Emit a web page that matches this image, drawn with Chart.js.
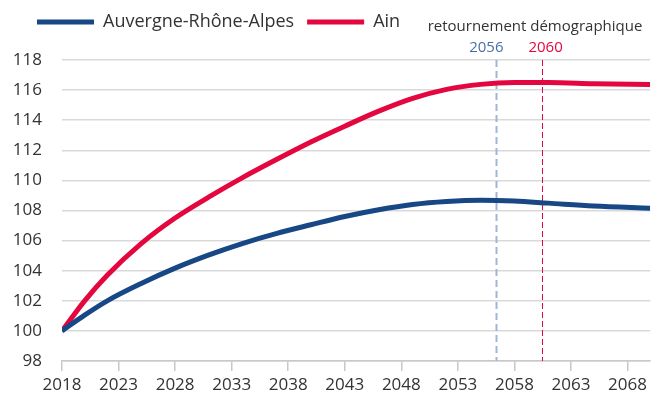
<!DOCTYPE html>
<html>
<head>
<meta charset="utf-8">
<script src="https://cdn.jsdelivr.net/npm/chart.js@4.4.1/dist/chart.umd.min.js"></script>
<style>
  html, body { margin: 0; padding: 0; background: #fff; }
</style>
</head>
<body>
<canvas id="chart" width="651" height="400"></canvas>
<script>
// valeurs (indice base 100 en 2018)
const years = [2018, 2020, 2022, 2025, 2028, 2031, 2034, 2037, 2040, 2043, 2046, 2049, 2052, 2055, 2058, 2061, 2065, 2070];
const araValues = [100, 101.05, 102.0, 103.15, 104.17, 105.05, 105.82, 106.48, 107.05, 107.6, 108.05, 108.4, 108.6, 108.68, 108.63, 108.49, 108.3, 108.15];
const ainValues = [100, 102.0, 103.7, 105.8, 107.5, 108.9, 110.2, 111.4, 112.55, 113.6, 114.6, 115.45, 116.05, 116.38, 116.5, 116.5, 116.43, 116.37];
const xTickYears = [2018, 2023, 2028, 2033, 2038, 2043, 2048, 2053, 2058, 2063, 2068];
const seriesNames = ['Auvergne-Rhône-Alpes', 'Ain'];

// retournement démographique
const markerTitle = 'retournement démographique';
const markerX = [2056.4, 2060.4];
const markerLabels = ['2056', '2060'];

const BLUE = '#174785';
const RED = '#e4073f';
const FONT = "'Open Sans', sans-serif";

function toPoints(values) {
  return years.map((y, i) => ({ x: y, y: values[i] }));
}

// traits pointillés + textes du retournement
const markerPlugin = {
  id: 'markers',
  beforeDatasetsDraw(chart) {
    const ctx = chart.ctx;
    const x = chart.scales.x;
    const area = chart.chartArea;
    const lineColors = ['#9fb5d8', RED];
    const lineWidths = [2, 1];
    const dashes = [[7, 4], [6, 3]];
    ctx.save();
    markerX.forEach((v, i) => {
      const px = Math.round(x.getPixelForValue(v)) + 0.5;
      ctx.beginPath();
      ctx.strokeStyle = lineColors[i];
      ctx.lineWidth = lineWidths[i];
      ctx.setLineDash(dashes[i]);
      ctx.moveTo(px, area.top);
      ctx.lineTo(px, area.bottom);
      ctx.stroke();
    });
    ctx.restore();
  },
  afterDraw(chart) {
    const ctx = chart.ctx;
    const x = chart.scales.x;
    const textColors = ['#4a6da7', RED];
    const offsets = [-10, 4];
    ctx.save();
    ctx.font = '15px ' + FONT;
    ctx.textBaseline = 'middle';
    ctx.textAlign = 'center';
    ctx.fillStyle = '#333';
    ctx.fillText(markerTitle, 535, 27);
    markerLabels.forEach((t, i) => {
      ctx.fillStyle = textColors[i];
      ctx.fillText(t, x.getPixelForValue(markerX[i]) + offsets[i], 48);
    });
    ctx.restore();
  }
};

// hauteur fixe de la légende et décalage vers la droite
const legendTweak = {
  id: 'legendTweak',
  beforeInit(chart) {
    const legend = chart.legend;
    const fit = legend.fit;
    const draw = legend.draw;
    legend.fit = function () {
      fit.call(legend);
      legend.height = 60;
    };
    legend.draw = function (area) {
      chart.ctx.save();
      chart.ctx.translate(24, 0);
      draw.call(legend, area);
      chart.ctx.restore();
    };
  }
};

const ctx = document.getElementById('chart').getContext('2d');

new Chart(ctx, {
  type: 'line',
  data: {
    datasets: [
      {
        label: seriesNames[0],
        data: toPoints(araValues),
        borderColor: BLUE,
        backgroundColor: BLUE,
        borderWidth: 5,
        pointRadius: 0,
        cubicInterpolationMode: 'monotone',
        fill: false
      },
      {
        label: seriesNames[1],
        data: toPoints(ainValues),
        borderColor: RED,
        backgroundColor: RED,
        borderWidth: 5,
        pointRadius: 0,
        cubicInterpolationMode: 'monotone',
        fill: false
      }
    ]
  },
  options: {
    responsive: false,
    animation: false,
    layout: { padding: 0 },
    plugins: {
      tooltip: { enabled: false },
      legend: {
        position: 'top',
        align: 'start',
        labels: {
          boxWidth: 57,
          boxHeight: 5,
          padding: 13,
          color: '#333',
          font: { family: FONT, size: 18 },
          generateLabels(chart) {
            return chart.data.datasets.map((ds, i) => ({
              text: ds.label,
              fillStyle: ds.borderColor,
              strokeStyle: ds.borderColor,
              lineWidth: 0,
              fontColor: '#333',
              hidden: false,
              datasetIndex: i
            }));
          }
        }
      }
    },
    scales: {
      x: {
        type: 'linear',
        min: 2018,
        max: 2070,
        afterBuildTicks(scale) {
          scale.ticks = xTickYears.map(v => ({ value: v }));
        },
        afterFit(scale) {
          scale.height = 39;
        },
        ticks: {
          padding: 4,
          color: '#333',
          maxRotation: 0,
          autoSkip: false,
          font: { family: FONT, size: 17 },
          callback: v => String(v)
        },
        grid: {
          drawOnChartArea: false,
          drawTicks: true,
          tickLength: 10,
          color: '#c8c8c8',
          lineWidth: 1.5
        },
        border: { display: true, color: '#c8c8c8', width: 1.5 }
      },
      y: {
        min: 98,
        max: 118,
        afterFit(scale) {
          scale.width = 62;
        },
        ticks: {
          stepSize: 2,
          padding: 20,
          color: '#333',
          font: { family: FONT, size: 17 }
        },
        grid: {
          drawTicks: false,
          color: '#d9d9d9',
          lineWidth: 1.5
        },
        border: { display: false }
      }
    }
  },
  plugins: [markerPlugin, legendTweak]
});
</script>
</body>
</html>
